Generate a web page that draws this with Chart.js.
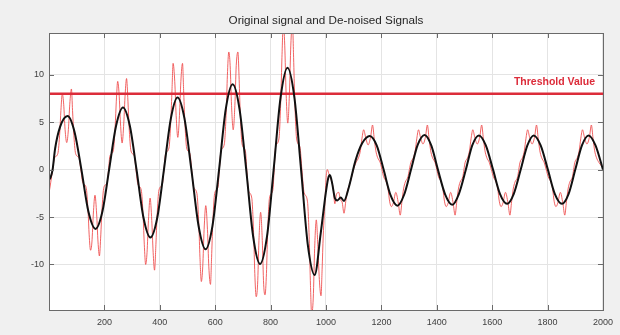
<!DOCTYPE html>
<html>
<head>
<meta charset="utf-8">
<title>Original signal and De-noised Signals</title>
<script src="https://cdn.jsdelivr.net/npm/chart.js@4.4.1/dist/chart.umd.min.js"></script>
<style>
  html, body { margin: 0; padding: 0; background: #f0f0f0; }
  #wrap { width: 620px; height: 335px; }
</style>
</head>
<body>
<div id="wrap"><canvas id="signalChart" width="620" height="335"></canvas></div>
<script>
const chartTitle = 'Original signal and De-noised Signals';
const xTicks = [200, 400, 600, 800, 1000, 1200, 1400, 1600, 1800, 2000];
const yTicks = [-10, -5, 0, 5, 10];
const thresholdValue = 8;
const thresholdLabel = 'Threshold Value';

// original (noisy) signal, [sample, value]
const originalSignal = [
  [0,-2.5],[6,-1.4],[14,0.2],
  [20,1.24],[32,1.70],[39,3.96],[43,6.22],[48,8.0],[53,6.89],[58,4.24],[64,2.85],[70,4.24],[75,6.89],[81,8.5],[85,6.22],[89,3.96],[96,1.70],[108,1.24],[115,0],
  [122,-1.38],[134,-1.88],[141,-4.38],[145,-6.88],[150,-8.5],[155,-7.63],[160,-4.69],[166,-2.7],[172,-4.69],[177,-7.63],[182,-9.1],[187,-6.88],[191,-4.38],[198,-1.88],[210,-1.38],[215,0],
  [220,1.44],[232,1.97],[239,4.59],[243,7.21],[248,9.3],[253,7.99],[258,4.91],[264,2.8],[270,4.91],[275,7.99],[280,9.6],[285,7.21],[289,4.59],[296,1.97],[308,1.44],[314,0],
  [321,-1.57],[333,-2.15],[340,-5.0],[344,-7.87],[349,-10.0],[354,-8.72],[359,-5.36],[365,-3.0],[371,-5.36],[376,-8.72],[381,-10.6],[386,-7.87],[390,-5.0],[397,-2.15],[409,-1.57],[415,0],
  [421,1.67],[433,2.28],[440,5.32],[444,8.36],[448,11.2],[454,9.27],[459,5.7],[465,3.4],[471,5.7],[476,9.27],[482,11.2],[486,8.36],[490,5.32],[497,2.28],[509,1.67],[515,0],
  [522,-1.85],[534,-2.52],[541,-5.88],[545,-9.24],[550,-11.8],[555,-10.25],[560,-6.3],[566,-3.8],[572,-6.3],[577,-10.25],[583,-12.1],[587,-9.24],[591,-5.88],[598,-2.52],[610,-1.85],[615,0],
  [621,1.98],[633,2.7],[640,6.3],[644,9.9],[649,12.4],[654,10.98],[659,6.75],[665,4.2],[671,6.75],[676,10.98],[682,12.4],[686,9.9],[690,6.3],[697,2.7],[709,1.98],[714,0],
  [720,-2.19],[732,-2.99],[739,-6.97],[743,-10.95],[748,-13.4],[753,-12.14],[758,-7.46],[764,-4.5],[770,-7.46],[775,-12.14],[780,-13.2],[785,-10.95],[789,-6.97],[796,-2.99],[808,-2.19],[813,0],
  [818,2.37],[830,3.23],[837,7.53],[841,11.83],[846,15.5],[851,13.12],[856,8.06],[862,4.9],[868,8.06],[873,13.12],[879,15.5],[883,11.83],[887,7.53],[894,3.23],[906,2.37],[913,0],
  [921,-2.44],[933,-3.33],[940,-7.77],[944,-12.21],[948,-15.2],[954,-13.54],[959,-8.33],[965,-5.3],[971,-8.33],[976,-11.6],[982,-13.3],[986,-10.5],[990,-7.0],[997,-3.0],
  [1001,-0.6],[1005,0.0],[1010,-0.4],[1018,-1.0],[1026,-2.0],[1032,-3.6],[1038,-2.6],[1046,-2.4],[1052,-3.2],[1058,-3.4],[1065,-4.6],[1072,-3.2],[1078,-2.2],[1086,-1.5],[1094,-0.6],[1100,0.1],
  [1108,0.72],[1118,1.3],[1124,1.98],[1130,3.31],[1136,4.2],[1143,3.42],[1152,2.6],[1161,3.42],[1168,4.7],[1174,3.31],[1180,1.98],[1186,1.3],[1196,0.72],[1202,0],
  [1208,-0.74],[1218,-1.33],[1224,-2.04],[1230,-3.4],[1236,-3.9],[1243,-3.52],[1252,-2.4],[1261,-3.52],[1268,-4.8],[1274,-3.4],[1280,-2.04],[1286,-1.33],[1296,-0.74],[1301,0],
  [1306,0.72],[1316,1.3],[1322,1.98],[1328,3.31],[1334,4.2],[1341,3.42],[1350,2.7],[1359,3.42],[1366,4.7],[1372,3.31],[1378,1.98],[1384,1.3],[1394,0.72],[1400,0],
  [1406,-0.74],[1416,-1.33],[1422,-2.04],[1428,-3.4],[1434,-3.9],[1441,-3.52],[1450,-2.4],[1459,-3.52],[1466,-4.8],[1472,-3.4],[1478,-2.04],[1484,-1.33],[1494,-0.74],[1498,0],
  [1502,0.72],[1512,1.3],[1518,1.98],[1524,3.31],[1530,4.2],[1537,3.42],[1546,2.7],[1555,3.42],[1562,4.7],[1568,3.31],[1574,1.98],[1580,1.3],[1590,0.72],[1597,0],
  [1604,-0.74],[1614,-1.33],[1620,-2.04],[1626,-3.4],[1632,-3.9],[1639,-3.52],[1648,-2.4],[1657,-3.52],[1664,-4.8],[1670,-3.4],[1676,-2.04],[1682,-1.33],[1692,-0.74],[1696,0],
  [1700,0.72],[1710,1.3],[1716,1.98],[1722,3.31],[1728,4.2],[1735,3.42],[1744,2.7],[1753,3.42],[1760,4.7],[1766,3.31],[1772,1.98],[1778,1.3],[1788,0.72],[1795,0],
  [1802,-0.74],[1812,-1.33],[1818,-2.04],[1824,-3.4],[1830,-3.9],[1837,-3.52],[1846,-2.4],[1855,-3.52],[1862,-4.8],[1868,-3.4],[1874,-2.04],[1880,-1.33],[1890,-0.74],[1894,0],
  [1898,0.72],[1908,1.3],[1914,1.98],[1920,3.31],[1926,4.2],[1933,3.42],[1942,2.7],[1951,3.42],[1958,4.7],[1964,3.31],[1970,1.98],[1976,1.3],[1986,0.72],[2000,0.2]
];

// de-noised signal
const denoisedSignal = [
  [0,-1.1],[6,-0.8],[13,0],[22,2.2],[40,4.5],[67,5.65],
  [92,4.0],[117,0],[142,-4.4],[168,-6.25],
  [193,-4.4],[217,0],[242,4.6],[267,6.55],
  [292,4.6],[316,0],[341,-5.05],[366,-7.15],
  [391,-5.05],[415,0],[440,5.4],[464,7.6],
  [489,5.4],[514,0],[540,-5.95],[565,-8.4],
  [590,-5.95],[614,0],[638,6.35],[663,9.0],
  [688,6.35],[712,0],[737,-7.05],[762,-9.95],
  [787,-7.05],[811,0],[836,7.6],[861,10.75],
  [886,7.6],[910,0],[934,-7.85],[959,-11.1],
  [981,-6.7],[999,-2.5],[1008,-0.9],[1014,-0.56],[1022,-1.4],[1032,-3.0],[1041,-3.25],[1053,-2.95],[1065,-3.3],
  [1083,-1.8],[1107,1.0],[1131,2.8],[1158,3.55],
  [1183,2.55],[1208,0],[1233,-2.7],[1258,-3.8],
  [1282,-2.65],[1307,0],[1331,2.6],[1356,3.65],
  [1380,2.55],[1404,0],[1430,-2.6],[1456,-3.7],
  [1480,-2.55],[1505,0],[1528,2.55],[1552,3.6],
  [1577,2.55],[1603,0],[1628,-2.55],[1654,-3.6],
  [1678,-2.55],[1703,0],[1727,2.55],[1750,3.6],
  [1775,2.55],[1801,0],[1826,-2.55],[1852,-3.6],
  [1876,-2.55],[1900,0],[1924,2.55],[1948,3.6],
  [1973,2.55],[2000,0]
];

const toPoints = arr => arr.map(p => ({ x: p[0], y: p[1] }));

const ChartColors = {
  original: 'rgba(238, 72, 72, 0.85)',
  denoised: '#111111',
  threshold: 'rgb(220, 44, 58)',
  grid: '#e4e4e4',
  frame: '#6a6a6a',
  text: '#404040'
};

const fontFamily = '"Liberation Sans", Arial, sans-serif';

// MATLAB-like axes: grey figure, white box, ticks pointing inward, title over the box
const axesFrame = {
  id: 'axesFrame',
  beforeDraw(chart) {
    const { ctx, chartArea: a } = chart;
    ctx.save();
    ctx.fillStyle = '#f0f0f0';
    ctx.fillRect(0, 0, chart.width, chart.height);
    ctx.fillStyle = '#ffffff';
    ctx.fillRect(a.left, a.top, a.right - a.left, a.bottom - a.top);
    ctx.restore();
  },
  afterDraw(chart) {
    const { ctx, chartArea: a, scales } = chart;
    ctx.save();
    ctx.strokeStyle = ChartColors.frame;
    ctx.lineWidth = 1;
    ctx.beginPath();
    xTicks.forEach(v => {
      const px = Math.round(scales.x.getPixelForValue(v)) + 0.5;
      ctx.moveTo(px, a.bottom); ctx.lineTo(px, a.bottom - 5);
      ctx.moveTo(px, a.top); ctx.lineTo(px, a.top + 5);
    });
    yTicks.forEach(v => {
      const py = Math.round(scales.y.getPixelForValue(v)) + 0.5;
      ctx.moveTo(a.left, py); ctx.lineTo(a.left + 5, py);
      ctx.moveTo(a.right, py); ctx.lineTo(a.right - 5, py);
    });
    ctx.stroke();
    ctx.strokeRect(Math.round(a.left) + 0.5, Math.round(a.top) + 0.5,
      Math.round(a.right - a.left), Math.round(a.bottom - a.top));

    // title, centred over the axes box
    ctx.fillStyle = '#262626';
    ctx.font = '11.7px ' + fontFamily;
    ctx.textAlign = 'center';
    ctx.textBaseline = 'middle';
    ctx.fillText(chartTitle, (a.left + a.right) / 2, 21);

    ctx.fillStyle = ChartColors.threshold;
    ctx.font = 'bold 10.5px ' + fontFamily;
    ctx.textAlign = 'right';
    ctx.textBaseline = 'bottom';
    ctx.fillText(thresholdLabel, scales.x.getPixelForValue(2000) - 8,
      scales.y.getPixelForValue(thresholdValue) - 6);
    ctx.restore();
  }
};

const tickFont = { size: 9, family: fontFamily };

new Chart(document.getElementById('signalChart'), {
  type: 'line',
  data: {
    datasets: [
      {
        label: 'De-noised',
        data: toPoints(denoisedSignal),
        borderColor: ChartColors.denoised,
        borderWidth: 2,
        cubicInterpolationMode: 'monotone',
        pointRadius: 0,
        order: 0
      },
      {
        label: 'Threshold',
        data: [{ x: 0, y: thresholdValue }, { x: 2000, y: thresholdValue }],
        borderColor: ChartColors.threshold,
        borderWidth: 2.5,
        pointRadius: 0,
        order: 1
      },
      {
        label: 'Original',
        data: toPoints(originalSignal),
        borderColor: ChartColors.original,
        borderWidth: 1,
        cubicInterpolationMode: 'monotone',
        pointRadius: 0,
        clip: 0,
        order: 2
      }
    ]
  },
  options: {
    responsive: false,
    animation: false,
    devicePixelRatio: 1,
    layout: { padding: { left: 0, right: 12, top: 33, bottom: 0 } },
    scales: {
      x: {
        type: 'linear',
        min: 0,
        max: 2000,
        afterBuildTicks: s => { s.ticks = xTicks.map(v => ({ value: v })); },
        afterFit: s => { s.height = 25; },
        grid: { color: ChartColors.grid, drawTicks: false },
        border: { display: false },
        ticks: {
          color: ChartColors.text, font: tickFont, padding: 7, maxRotation: 0, autoSkip: false,
          callback: v => String(v)
        }
      },
      y: {
        type: 'linear',
        min: -14.8,
        max: 14.4,
        afterBuildTicks: s => { s.ticks = yTicks.map(v => ({ value: v })); },
        afterFit: s => { s.width = 49; },
        grid: { color: ChartColors.grid, drawTicks: false },
        border: { display: false },
        ticks: { color: ChartColors.text, font: tickFont, padding: 5, callback: v => String(v) }
      }
    },
    plugins: {
      legend: { display: false },
      tooltip: { enabled: false },
      title: { display: false }
    }
  },
  plugins: [axesFrame]
});
</script>
</body>
</html>
